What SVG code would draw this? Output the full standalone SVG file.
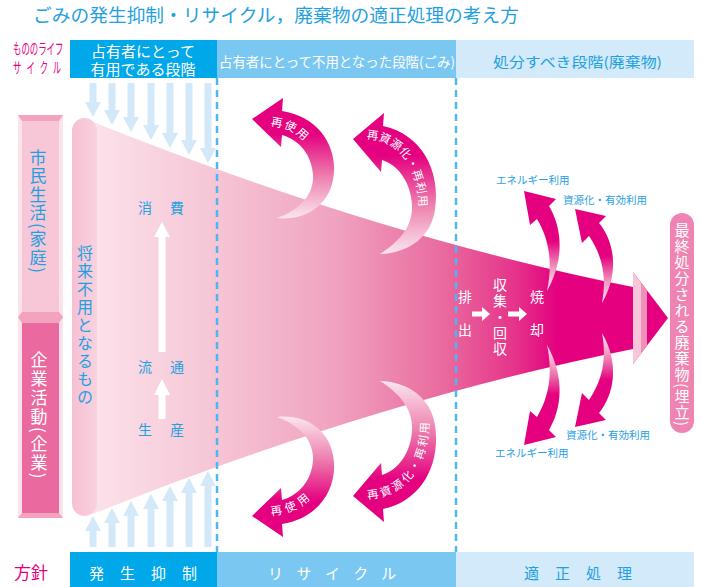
<svg xmlns="http://www.w3.org/2000/svg" width="701" height="587" viewBox="0 0 701 587">
<style>
text { font-family: "Noto Sans CJK JP", "Noto Sans", sans-serif; }
.v { writing-mode: vertical-rl; }
.blue { fill: #1fa0e0; }
.wht { fill: #ffffff; }
.mag { fill: #e4007f; }
.parrow { fill: #d3e9f9; }
.dash { stroke: #4db8ef; stroke-width: 2.5; stroke-dasharray: 7 5; fill: none; }
.reuse { fill: url(#reuseGrad); }
.out { fill: url(#outGrad); }
.arc { font-size: 11.5px; fill: #ffffff; dominant-baseline: central; }
.lbl { font-size: 10.5px; fill: #1fa0e0; }
</style>
<defs>
<linearGradient id="funnelGrad" gradientUnits="userSpaceOnUse" x1="93" y1="0" x2="633" y2="0">
<stop offset="0" stop-color="#fbe2ea"/>
<stop offset="0.22" stop-color="#f6c6d6"/>
<stop offset="0.45" stop-color="#f0a2c0"/>
<stop offset="0.65" stop-color="#e96a9e"/>
<stop offset="0.78" stop-color="#e6348b"/>
<stop offset="0.86" stop-color="#e4007f"/>
<stop offset="1" stop-color="#e4007f"/>
</linearGradient>
<linearGradient id="tubeGrad" x1="0" y1="0" x2="1" y2="0">
<stop offset="0" stop-color="#f6c0d2"/>
<stop offset="1" stop-color="#f9d2df"/>
</linearGradient>
<linearGradient id="reuseGrad" x1="0" y1="0" x2="0" y2="1">
<stop offset="0" stop-color="#e4007f"/>
<stop offset="0.3" stop-color="#e4007f"/>
<stop offset="0.65" stop-color="#ee7fae"/>
<stop offset="1" stop-color="#fbe6ee"/>
</linearGradient>
<linearGradient id="outGrad" x1="0" y1="0" x2="0" y2="1">
<stop offset="0" stop-color="#e4007f"/>
<stop offset="0.5" stop-color="#e4007f"/>
<stop offset="0.78" stop-color="#f29cc0"/>
<stop offset="1" stop-color="#fde8f0"/>
</linearGradient>
<path id="pA1u" d="M 264,121 C 285,120 302,128 314,145"/>
<path id="pA2u" d="M 366,134 C 398,134 424,160 424,212"/>
<path id="pA1d" d="M 264,510 C 285,511 302,504 313,488"/>
<path id="pA2d" d="M 366,494 C 400,493 424,468 424,420"/>
</defs>

<rect width="701" height="587" fill="#ffffff"/>

<g id="title">
<text x="33" y="22" font-size="18.5" class="blue" textLength="486" lengthAdjust="spacingAndGlyphs">ごみの発生抑制・リサイクル，廃棄物の適正処理の考え方</text>
</g>

<g id="lifecycle-label">
<text transform="translate(13,54) scale(0.56,1)" font-size="15" class="mag">もののライフ</text>
<text transform="translate(13,73) scale(0.56,1)" font-size="15" letter-spacing="9" class="mag">サイクル</text>
</g>

<g id="header-useful">
<rect x="70" y="40" width="147" height="38" fill="#00a7e9"/>
<text text-anchor="middle" font-size="15" class="wht"><tspan x="143" y="57">占有者にとって</tspan><tspan x="143" y="75">有用である段階</tspan></text>
</g>
<g id="header-waste">
<rect x="217" y="40" width="239" height="38" fill="#7ac7f1"/>
<text x="219" y="67" font-size="13.5" class="wht" textLength="236" lengthAdjust="spacingAndGlyphs">占有者にとって不用となった段階(ごみ)</text>
</g>
<g id="header-disposal">
<rect x="456" y="40" width="238" height="38" fill="#d3eafa"/>
<text x="493" y="66.5" font-size="14" class="blue" textLength="169" lengthAdjust="spacingAndGlyphs">処分すべき段階(廃棄物)</text>
</g>

<g id="bar-citizen">
<rect x="18" y="115" width="45" height="197" fill="#fce2ea"/>
<rect x="22" y="121" width="37" height="191" fill="#f8c7d7"/>
<polygon points="18,115 63,115 59,121 22,121" fill="#f3a2bf"/>
<text x="38" y="149" class="v blue" font-size="17" letter-spacing="1.5">市民生活(家庭)</text>
</g>
<g id="bar-business">
<rect x="18" y="312" width="45" height="206" fill="#fce2ea"/>
<rect x="22" y="323" width="37" height="190" fill="#ea6aa0"/>
<polygon points="18,317 22,312 59,312 63,317 59,323 22,323" fill="#f3a2bf"/>
<polygon points="22,513 59,513 63,518 18,518" fill="#f3a2bf"/>
<text x="39" y="351" class="v wht" font-size="17" letter-spacing="2">企業活動(企業)</text>
</g>

<g id="funnel">
<path d="M 90,122 L 93,122 Q 378,236 633,287 L 633,349 Q 378,400 93,514 L 90,514 Z" fill="url(#funnelGrad)"/>
<polygon points="633,272 668,318 633,364" fill="#e4007f"/>
<polygon points="633,272 641,282.5 641,353.5 633,364" fill="#f8c6da"/>
<polygon points="641,282.5 647,290.4 647,345.6 641,353.5" fill="#f090b8"/>
<rect x="72" y="118" width="25" height="398" rx="12.5" fill="url(#tubeGrad)"/>
<text x="85" y="245" class="v blue" font-size="16" letter-spacing="2">将来不用となるもの</text>
</g>

<g id="stage-labels">
<text x="145" y="213" text-anchor="middle" font-size="14" class="blue">消</text>
<text x="177" y="213" text-anchor="middle" font-size="14" class="blue">費</text>
<text x="145" y="372" text-anchor="middle" font-size="14" class="blue">流</text>
<text x="177" y="372" text-anchor="middle" font-size="14" class="blue">通</text>
<text x="145" y="435" text-anchor="middle" font-size="14" class="blue">生</text>
<text x="177" y="435" text-anchor="middle" font-size="14" class="blue">産</text>
<text x="465" y="302" text-anchor="middle" font-size="14" class="wht">排</text>
<text x="465" y="335" text-anchor="middle" font-size="14" class="wht">出</text>
<text x="500" y="278" class="v wht" font-size="14" letter-spacing="2">収集・回収</text>
<text x="537" y="302" text-anchor="middle" font-size="14" class="wht">焼</text>
<text x="537" y="335" text-anchor="middle" font-size="14" class="wht">却</text>
</g>

<g id="landfill">
<rect x="670" y="213" width="24" height="220" rx="12" fill="#ef84b2"/>
<text x="682" y="223" class="v wht" font-size="15" letter-spacing="1">最終処分される廃棄物(埋立)</text>
</g>

<g id="connectors">
<path class="dash" d="M 217,78 V 552"/>
<path class="dash" d="M 456,78 V 552"/>
<g id="suppress-top">
<polygon class="parrow" points="89.5,83 96.5,83 96.5,102 101,102 93,117 85,102 89.5,102"/>
<polygon class="parrow" points="108.5,83 115.5,83 115.5,110 120,110 112,125 104,110 108.5,110"/>
<polygon class="parrow" points="127.5,83 134.5,83 134.5,117 139,117 131,132 123,117 127.5,117"/>
<polygon class="parrow" points="147.5,83 154.5,83 154.5,125 159,125 151,140 143,125 147.5,125"/>
<polygon class="parrow" points="166.5,83 173.5,83 173.5,133 178,133 170,148 162,133 166.5,133"/>
<polygon class="parrow" points="185.5,83 192.5,83 192.5,140 197,140 189,155 181,140 185.5,140"/>
<polygon class="parrow" points="204.5,83 211.5,83 211.5,148 216,148 208,163 200,148 204.5,148"/>
</g>
<g id="suppress-bottom">
<polygon class="parrow" points="89.5,547 96.5,547 96.5,531 101,531 93,516 85,531 89.5,531"/>
<polygon class="parrow" points="108.5,547 115.5,547 115.5,523 120,523 112,508 104,523 108.5,523"/>
<polygon class="parrow" points="127.5,547 134.5,547 134.5,516 139,516 131,501 123,516 127.5,516"/>
<polygon class="parrow" points="147.5,547 154.5,547 154.5,509 159,509 151,494 143,509 147.5,509"/>
<polygon class="parrow" points="166.5,547 173.5,547 173.5,501 178,501 170,486 162,501 166.5,501"/>
<polygon class="parrow" points="185.5,547 192.5,547 192.5,493 197,493 189,478 181,493 185.5,493"/>
<polygon class="parrow" points="204.5,547 211.5,547 211.5,486 216,486 208,471 200,486 204.5,486"/>
</g>
<g id="flow-arrows" fill="#ffffff">
<polygon points="158.5,352 165.5,352 165.5,237 170,237 162,222 154,237 158.5,237"/>
<polygon points="158.5,419 165.5,419 165.5,395 170,395 162,379 154,395 158.5,395"/>
<polygon points="472,311.5 482,311.5 482,307 490,314 482,321 482,316.5 472,316.5"/>
<polygon points="508,311.5 519,311.5 519,307 527,314 519,321 519,316.5 508,316.5"/>
</g>
<g id="reuse-up">
<path class="reuse" d="M 252,119 L 283,98 L 282,111 C 321,117 339,150 333,180 C 328,206 305,221 277,218 C 299,210 314,195 313,175 C 312,156 300,140 282,135 L 281,147 Z"/>
<text class="arc" letter-spacing="3"><textPath href="#pA1u" startOffset="50%" text-anchor="middle">再使用</textPath></text>
</g>
<g id="recycle-up">
<path class="reuse" d="M 353,139 L 384,113 L 383,126 C 421,134 441,170 435,210 C 431,236 410,253 380,254 C 400,241 413,226 412,205 C 411,184 400,166 382,160 L 381,172 Z"/>
<text class="arc" letter-spacing="1.5"><textPath href="#pA2u" startOffset="1">再資源化・再利用</textPath></text>
</g>
<g id="reuse-down">
<path class="reuse" transform="translate(0,635) scale(1,-1)" d="M 252,119 L 283,98 L 282,111 C 321,117 339,150 333,180 C 328,206 305,221 277,218 C 299,210 314,195 313,175 C 312,156 300,140 282,135 L 281,147 Z"/>
<text class="arc" letter-spacing="3"><textPath href="#pA1d" startOffset="50%" text-anchor="middle">再使用</textPath></text>
</g>
<g id="recycle-down">
<path class="reuse" transform="translate(0,635) scale(1,-1)" d="M 353,139 L 384,113 L 383,126 C 421,134 441,170 435,210 C 431,236 410,253 380,254 C 400,241 413,226 412,205 C 411,184 400,166 382,160 L 381,172 Z"/>
<text class="arc" letter-spacing="1.5"><textPath href="#pA2d" startOffset="1">再資源化・再利用</textPath></text>
</g>
<g id="energy-up">
<path class="out" d="M 524,191 L 556,199 L 549,206 C 561,226 566,257 547,291 C 553,262 549,239 537,219 L 530,225 Z"/>
</g>
<g id="resource-up">
<path class="out" d="M 575,209 L 606,216 L 599,223 C 614,241 620,272 602,303 C 607,276 602,255 589,236 L 582,243 Z"/>
</g>
<g id="energy-down">
<path class="out" transform="translate(0,636) scale(1,-1)" d="M 524,191 L 556,199 L 549,206 C 561,226 566,257 547,291 C 553,262 549,239 537,219 L 530,225 Z"/>
</g>
<g id="resource-down">
<path class="out" transform="translate(0,636) scale(1,-1)" d="M 575,209 L 606,216 L 599,223 C 614,241 620,272 602,303 C 607,276 602,255 589,236 L 582,243 Z"/>
</g>
</g>

<g id="output-labels">
<text x="496" y="184" class="lbl">エネルギー利用</text>
<text x="563" y="204" class="lbl">資源化・有効利用</text>
<text x="566" y="439" class="lbl">資源化・有効利用</text>
<text x="495" y="457" class="lbl">エネルギー利用</text>
</g>

<g id="policy-label">
<text x="14" y="579" font-size="17" class="mag">方針</text>
</g>
<g id="policy-reduce">
<rect x="70" y="552" width="147" height="35" fill="#00a7e9"/>
<text x="151" y="579" text-anchor="middle" font-size="15" letter-spacing="16" class="wht">発生抑制</text>
</g>
<g id="policy-recycle">
<rect x="217" y="552" width="239" height="35" fill="#7ac7f1"/>
<text x="339" y="579" text-anchor="middle" font-size="15" letter-spacing="13.5" class="wht">リサイクル</text>
</g>
<g id="policy-proper">
<rect x="456" y="552" width="238" height="35" fill="#d3eafa"/>
<text x="586" y="579" text-anchor="middle" font-size="15" letter-spacing="16" class="blue">適正処理</text>
</g>
</svg>
